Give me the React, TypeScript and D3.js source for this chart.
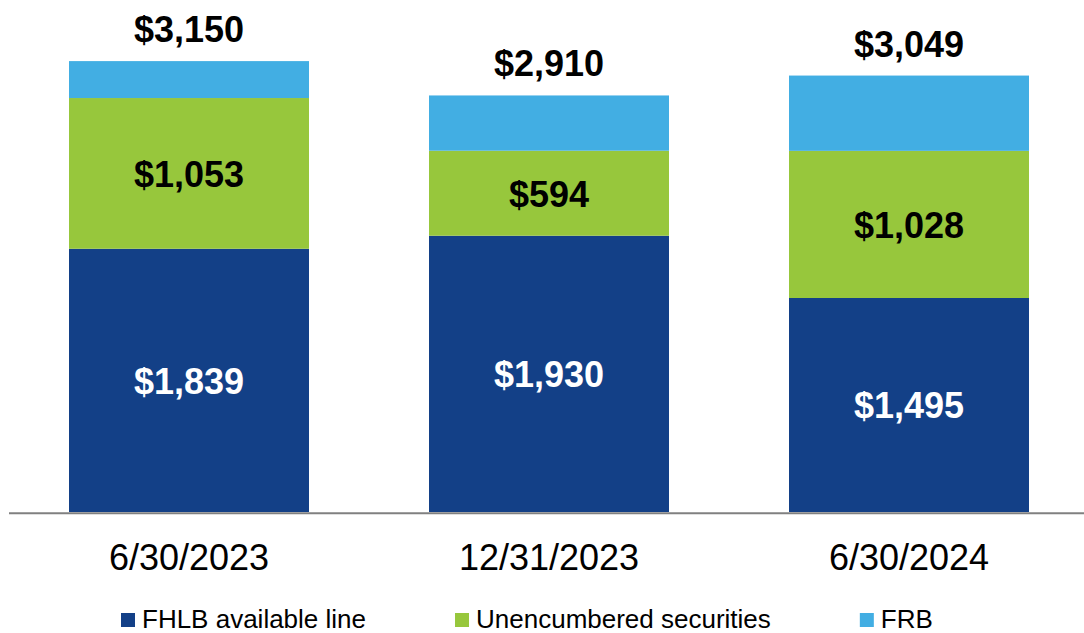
import React, { useEffect, useRef } from "react";
import * as d3 from "d3";

const categories = ["6/30/2023", "12/31/2023", "6/30/2024"];
const seriesNames = ["FHLB available line", "Unencumbered securities", "FRB"];
const fhlb = [1839, 1930, 1495];
const securities = [1053, 594, 1028];
const totals = [3150, 2910, 3049];
const frb = totals.map((t, i) => t - fhlb[i] - securities[i]);
const colors = ["#134087", "#97C73C", "#42AEE3"];
const labelColors = ["#FFFFFF", "#000000", null];

const W = 1084;
const H = 633;
const FONT = "'Liberation Sans', Arial, Helvetica, sans-serif";

export default function App() {
  const ref = useRef<SVGSVGElement | null>(null);

  useEffect(() => {
    const svg = d3.select(ref.current);
    svg.selectAll("*").remove();

    const x = d3
      .scaleBand<string>()
      .domain(categories)
      .range([9, 1089])
      .paddingInner(1 / 3)
      .paddingOuter(1 / 6);
    const y = d3.scaleLinear().domain([0, 3500]).range([512, 11]);

    const rows = categories.map((c, i) => ({
      cat: c,
      values: [fhlb[i], securities[i], frb[i]],
      total: totals[i],
    }));

    const g = svg.append("g");
    rows.forEach((r) => {
      let acc = 0;
      r.values.forEach((v, k) => {
        const y0 = acc;
        const y1 = acc + v;
        acc = y1;
        g.append("rect")
          .attr("x", x(r.cat)!)
          .attr("width", x.bandwidth())
          .attr("y", y(y1))
          .attr("height", y(y0) - y(y1))
          .attr("fill", colors[k]);
        const lc = labelColors[k];
        if (lc) {
          g.append("text")
            .attr("x", x(r.cat)! + x.bandwidth() / 2)
            .attr("y", (y(y0) + y(y1)) / 2)
            .attr("dy", "0.37em")
            .attr("text-anchor", "middle")
            .attr("font-family", FONT)
            .attr("font-weight", "bold")
            .attr("font-size", 36)
            .attr("fill", lc)
            .text("$" + d3.format(",")(v));
        }
      });
      g.append("text")
        .attr("x", x(r.cat)! + x.bandwidth() / 2)
        .attr("y", y(r.total) - 19)
        .attr("text-anchor", "middle")
        .attr("font-family", FONT)
        .attr("font-weight", "bold")
        .attr("font-size", 36)
        .attr("fill", "#000")
        .text("$" + d3.format(",")(r.total));
    });

    // axis line
    svg
      .append("line")
      .attr("x1", 9)
      .attr("x2", W)
      .attr("y1", 513.3)
      .attr("y2", 513.3)
      .attr("stroke", "#808080")
      .attr("stroke-width", 2);

    // category labels
    categories.forEach((c) => {
      svg
        .append("text")
        .attr("x", x(c)! + x.bandwidth() / 2)
        .attr("y", 570)
        .attr("text-anchor", "middle")
        .attr("font-family", FONT)
        .attr("font-size", 36)
        .attr("fill", "#000")
        .text(c);
    });

    // legend
    let lx = 121;
    seriesNames.forEach((name, k) => {
      svg
        .append("rect")
        .attr("x", lx)
        .attr("y", 613)
        .attr("width", 14)
        .attr("height", 14)
        .attr("fill", colors[k]);
      const t = svg
        .append("text")
        .attr("x", lx + 21)
        .attr("y", 627.5)
        .attr("font-family", FONT)
        .attr("font-size", 26)
        .attr("fill", "#000")
        .text(name);
      const w = (t.node() as SVGTextElement).getComputedTextLength();
      lx = lx + 21 + w + 89;
    });
  }, []);

  return (
    <svg
      ref={ref}
      width={W}
      height={H}
      style={{ position: "absolute", left: 0, top: 0, background: "#fff" }}
    />
  );
}
